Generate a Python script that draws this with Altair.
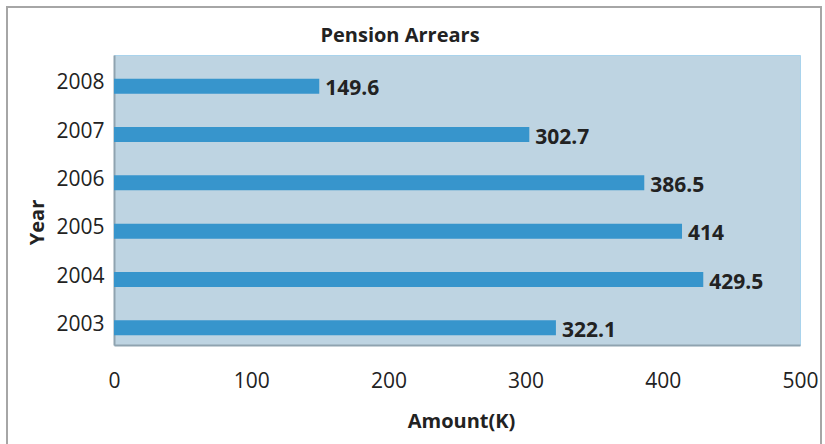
import altair as alt
import pandas as pd

years = ["2008", "2007", "2006", "2005", "2004", "2003"]
amounts = [149.6, 302.7, 386.5, 414, 429.5, 322.1]
labels = ["149.6", "302.7", "386.5", "414", "429.5", "322.1"]
x_ticks = [0, 100, 200, 300, 400, 500]

df = pd.DataFrame({"Year": years, "Amount": amounts, "Label": labels})

FONT = "Open Sans"

y_enc = alt.Y(
    "Year:N",
    sort=years,
    scale=alt.Scale(paddingInner=0, paddingOuter=0),
    axis=alt.Axis(
        title="Year",
        titleFont=FONT, titleFontSize=20, titleFontWeight="bold", titleColor="#222222",
        titleAngle=270, titleAlign="center", titleBaseline="middle",
        titleX=-77, titleY=167,
        labelFont=FONT, labelFontSize=21, labelColor="#222222",
        labelPadding=10, labelOffset=4,
        ticks=False, domain=True, domainColor="#8fa3b0", domainWidth=2,
    ),
)

x_enc = alt.X(
    "Amount:Q",
    scale=alt.Scale(domain=[0, 500], nice=False),
    axis=alt.Axis(
        values=x_ticks,
        title="Amount(K)",
        titleFont=FONT, titleFontSize=20, titleFontWeight="bold", titleColor="#222222",
        titleBaseline="middle", titleAlign="center", titleX=347, titleY=76,
        labelFont=FONT, labelFontSize=21, labelColor="#222222",
        labelPadding=25, grid=False, ticks=False,
        domain=True, domainColor="#8fa3b0", domainWidth=2,
        labelFlush=False,
    ),
)

bars = alt.Chart(df).mark_bar(size=15, yOffset=7, color="#3795cc").encode(
    x=x_enc, y=y_enc
)

text = alt.Chart(df).mark_text(
    align="left", baseline="middle", dx=6, dy=10,
    font=FONT, fontSize=21, fontWeight="bold", color="#222222",
).encode(x="Amount:Q", y=alt.Y("Year:N", sort=years), text="Label:N")

border = alt.Chart(df).mark_rect(
    fill=None, stroke="#a6a6a6", strokeWidth=2, clip=False
).encode(
    x=alt.value(-107), x2=alt.value(707), y=alt.value(-48), y2=alt.value(420)
)

chart = alt.layer(bars, text, border).properties(
    width=686,
    height=290,
    title=alt.TitleParams(
        "Pension Arrears", font=FONT, fontSize=20, fontWeight="bold",
        color="#222222", anchor="middle", dx=-57, baseline="alphabetic",
        offset=13, dy=69,
    ),
    padding={"left": 114, "top": 55, "right": 25, "bottom": 99},
    autosize=alt.AutoSizeParams(type="none"),
    background="white",
).configure_view(
    fill="#bed4e2", stroke="#a9d3ec", strokeWidth=1
)

chart.save("out.html", embed_options={"renderer": "svg", "actions": False})
